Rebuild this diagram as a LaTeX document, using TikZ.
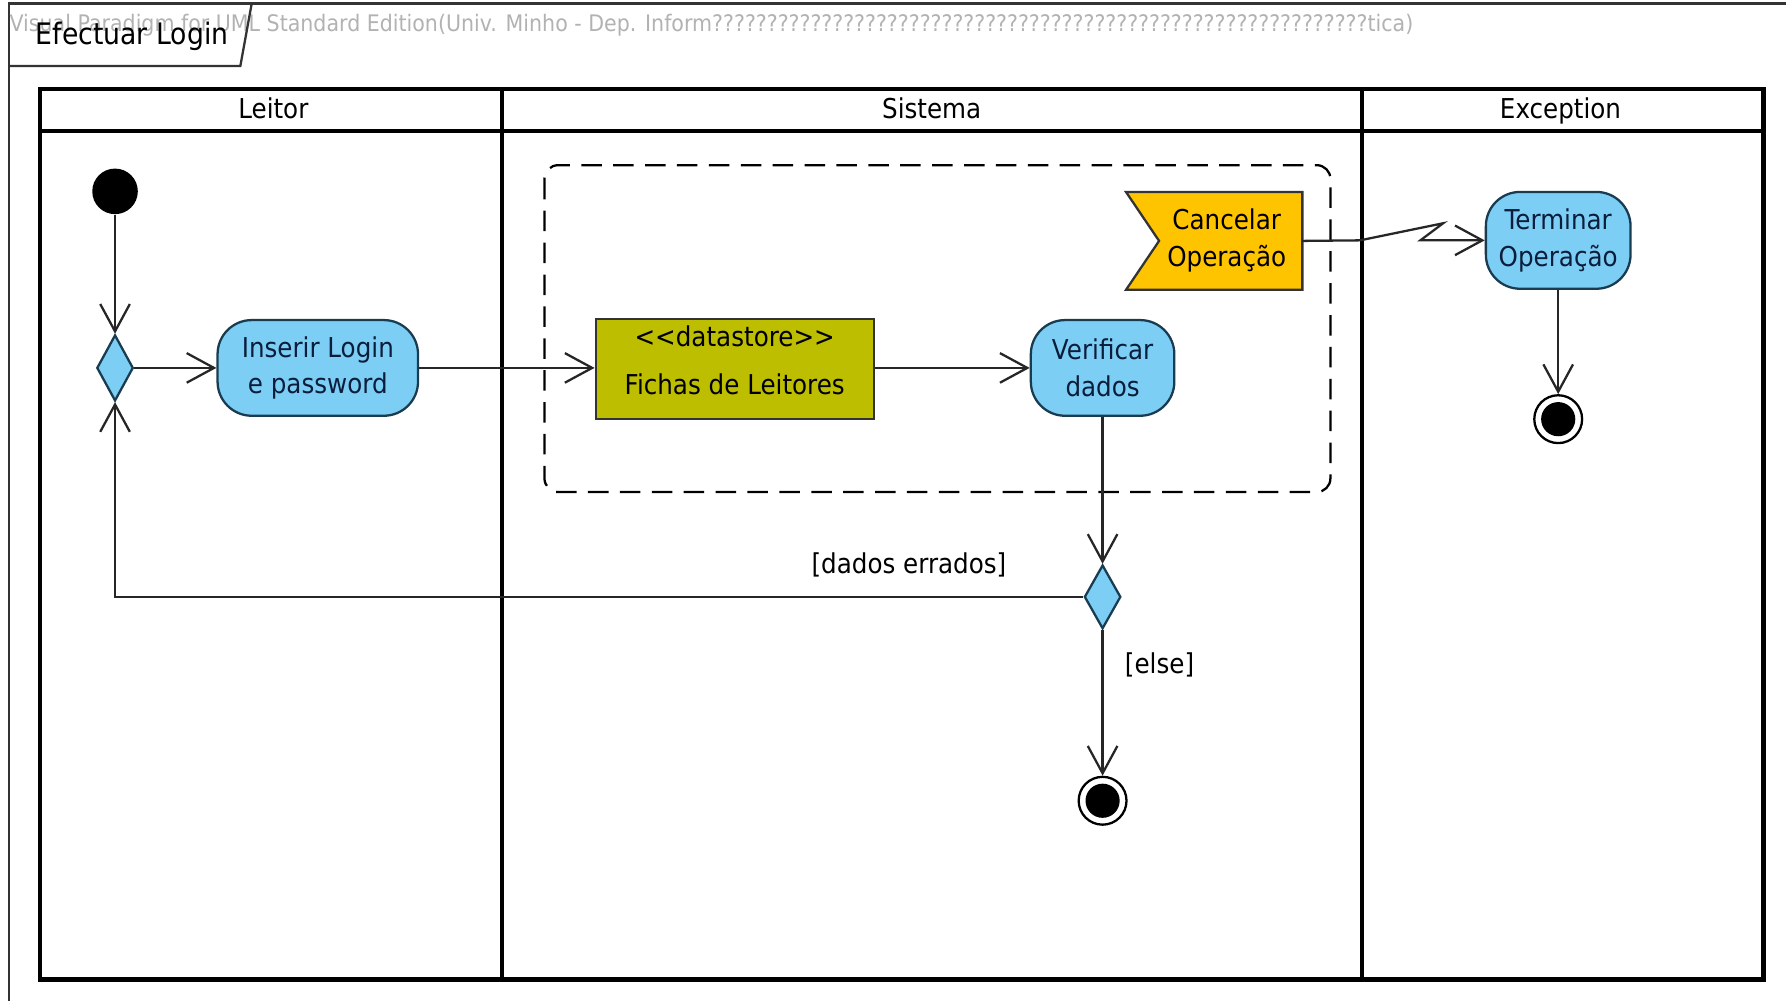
\documentclass[tikz,border=0pt]{standalone}
\usepackage{fontspec}
\usepackage{graphicx}
\setmainfont{DejaVu Sans}[FakeStretch=0.9]
\usetikzlibrary{arrows.meta,shapes.geometric}
\definecolor{actblue}{RGB}{125,206,245}
\definecolor{dsolive}{RGB}{190,190,0}
\definecolor{evgold}{RGB}{255,196,0}
\definecolor{actborder}{RGB}{25,60,80}
\definecolor{txt}{RGB}{10,30,60}
\begin{document}
\begin{tikzpicture}[x=0.5pt,y=-0.5pt,
  every node/.style={font=\fontsize{12}{16}\selectfont},
  act/.style={draw=actborder,fill=actblue,line width=1pt,rounded corners=15pt,align=center,inner sep=0pt,text=txt},
  dec/.style={diamond,draw=actborder,fill=actblue,line width=1pt,inner sep=0pt,minimum width=16pt,minimum height=29pt},
  flow/.style={draw=black!85,line width=1pt,-{Straight Barb[length=12pt,width=13pt,line width=1pt]}},
  lane/.style={line width=2pt},
  region/.style={line width=1pt,dash pattern=on 9pt off 5pt,rounded corners=6pt},
  fin/.style={circle,draw=black,line width=1pt,fill=white,minimum size=21pt,inner sep=0pt},
  findot/.style={circle,fill=black,minimum size=15pt,inner sep=0pt},
  lbl/.style={text=black},
  hdr/.style={anchor=base},
]
\useasboundingbox (0,0) rectangle (1568,879);

% frame
\draw[line width=1pt,black!80] (8,879) -- (8,3) -- (1568,3);
\node[anchor=west,inner sep=0pt,text=black!30,font=\fontsize{10}{12}\selectfont] (wm) at (8,22)
  {\resizebox{616pt}{\height}{Visual Paradigm for UML Standard Edition(Univ. Minho - Dep. Inform????????????????????????????????????????????????????????????tica)}};
\draw[line width=1pt,black!80] (8,58) -- (211,58) -- (221,3);
\node[font=\fontsize{13}{16}\selectfont] (title) at (116,32) {Efectuar Login};

% swimlanes
\draw[lane] (35,78) rectangle (1548,860);
\draw[lane] (35,115) -- (1548,115);
\draw[line width=1.6pt] (441,78) -- (441,860);
\draw[line width=1.6pt] (1196,78) -- (1196,860);
\node[hdr] (hleitor) at (240,104) {Leitor};
\node[hdr] (hsistema) at (818,104) {Sistema};
\node[hdr] (hexc) at (1370,104) {Exception};

% interruptible region
\draw[region] (478,145) rectangle (1168,432);

% nodes
\node[circle,fill=black,minimum size=20pt,inner sep=0pt] (init) at (101,168) {};
\node[dec] (m1) at (101,323) {};
\node[act,minimum width=88pt,minimum height=42pt] (ins) at (279,323) {Inserir Login\\e password};
\node[draw=black!80,fill=dsolive,line width=1pt,minimum width=122pt,minimum height=44pt,inner sep=0pt] (ds) at (645,324) {};
\node (dstype) at (645,295) {<{}<datastore>{}>};
\node (dsname) at (645,337) {Fichas de Leitores};
\node[act,minimum width=63pt,minimum height=42pt] (ver) at (968,323) {Verificar\\dados};
\node[minimum width=77pt,minimum height=42.5pt,inner sep=0pt] (cancel) at (1066,211.5) {};
\filldraw[fill=evgold,draw=black!80,line width=1pt] (cancel.north west) -- (cancel.north east) -- (cancel.south east) -- (cancel.south west) -- ([xshift=14.5pt]cancel.west) -- cycle;
\node[align=center,text=black] (canceltxt) at (1077,211) {Cancelar\\Operação};
\node[act,minimum width=63.5pt,minimum height=42.5pt] (term) at (1368,211) {Terminar\\Operação};
\node[fin] (fin1) at (1368,368) {};
\node[findot] (fin1dot) at (fin1) {};
\node[dec,minimum height=28pt] (d2) at (968,524) {};
\node[fin] (fin2) at (968,703) {};
\node[findot] (fin2dot) at (fin2) {};

% edges
\draw[flow] (init) -- (m1);
\draw[flow] (m1) -- (ins);
\draw[flow] (ins.east) -- (ins.east -| ds.west);
\draw[flow] (ds.east |- ver.west) -- (ver.west);
\draw[flow] (ver) -- (d2);
\draw[flow] (d2) -- (fin2);
\draw[flow] (d2.west) -| (m1.south);
\draw[flow] (term) -- (fin1);
\coordinate (z1) at (1194,211);
\coordinate (z2) at (1267,196);
\coordinate (z3) at (1247,211);
\draw[flow] (cancel.east) -- (z1) -- (z2) -- (z3) -- (term.west);

% guards
\node[lbl] (g1) at (798,496) {[dados errados]};
\node[lbl] (g2) at (1018,584) {[else]};
\end{tikzpicture}
\end{document}
